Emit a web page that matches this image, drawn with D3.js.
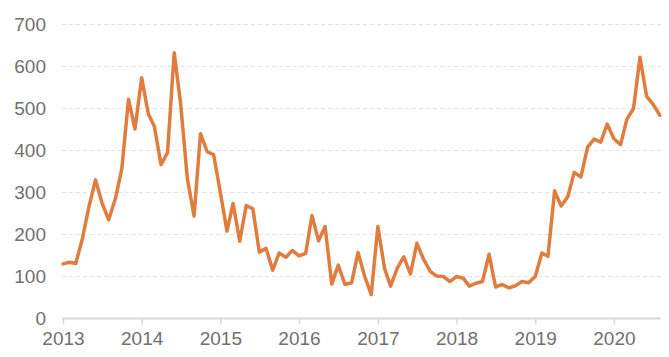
<!DOCTYPE html>
<html><head><meta charset="utf-8">
<script src="https://cdn.jsdelivr.net/npm/d3@7"></script>
<style>html,body{margin:0;padding:0;background:#fff;}svg{display:block;}</style>
</head><body>
<svg id="chart" width="669" height="357"></svg>
<script>
const startYear = 2013;
const values2013 = [130,134,131,190,265,330,275,235,285,357,522,451];
const values2014 = [573,487,457,366,395,633,510,333,244,440,397,390];
const values2015 = [300,208,274,184,269,261,158,167,115,156,146,162];
const values2016 = [149,155,245,185,219,82,127,81,85,157,100,57];
const values2017 = [219,119,77,120,147,106,179,141,112,101,100,88];
const values2018 = [100,96,77,84,88,153,75,81,73,78,88,85];
const values2019 = [100,156,148,304,268,290,348,337,408,427,420,463];
const values2020 = [428,414,474,500,622,529,510,484];
const yTicks = [0,100,200,300,400,500,600,700];
const xTickYears = [2013,2014,2015,2016,2017,2018,2019,2020];

const allValues = [].concat(values2013,values2014,values2015,values2016,values2017,values2018,values2019,values2020);
const data = allValues.map((v,i)=>({date:new Date(startYear, i, 1), value:v}));

const svg = d3.select("#chart");
const x = d3.scaleTime()
  .domain([new Date(2013,0,1), new Date(2020,7,1)])
  .range([63, 659.8]);
const y = d3.scaleLinear().domain([0,700]).range([318.5, 24.5]);

const font = "'Liberation Sans', Arial, sans-serif";

// gridlines
svg.append("g").selectAll("line").data(yTicks.filter(d=>d>0)).join("line")
  .attr("x1", 62).attr("x2", 661)
  .attr("y1", d=>y(d)).attr("y2", d=>y(d))
  .attr("stroke", "#e3e3e3").attr("stroke-width", 1)
  .attr("stroke-dasharray", "4,3");

// y axis labels
const yAxis = d3.axisLeft(y).tickValues(yTicks).tickSize(0).tickPadding(0);
const yg = svg.append("g").attr("transform","translate(46,0)").call(yAxis);
yg.select(".domain").remove();
yg.selectAll("text").attr("font-family", font).attr("font-size", 19).attr("fill", "#707070");

// x axis
const xAxis = d3.axisBottom(x)
  .tickValues(xTickYears.map(yr=>new Date(yr,0,1)))
  .tickFormat(d3.timeFormat("%Y"))
  .tickSizeInner(6).tickSizeOuter(0).tickPadding(7);
const xg = svg.append("g").attr("transform",`translate(0,${y(0)})`).call(xAxis);
xg.select(".domain").attr("stroke","#d9d9d9").attr("stroke-width",2)
  .attr("d", `M62,0H661`);
xg.selectAll(".tick line").attr("stroke","#d9d9d9").attr("stroke-width",1.5);
xg.selectAll("text").attr("font-family", font).attr("font-size", 19).attr("fill", "#707070");

// line
const line = d3.line().x(d=>x(d.date)).y(d=>y(d.value));
svg.append("path").datum(data)
  .attr("d", line)
  .attr("fill","none")
  .attr("stroke","#e07d3e")
  .attr("stroke-width",3.5)
  .attr("stroke-linejoin","round")
  .attr("stroke-linecap","round");
</script>
</body></html>
